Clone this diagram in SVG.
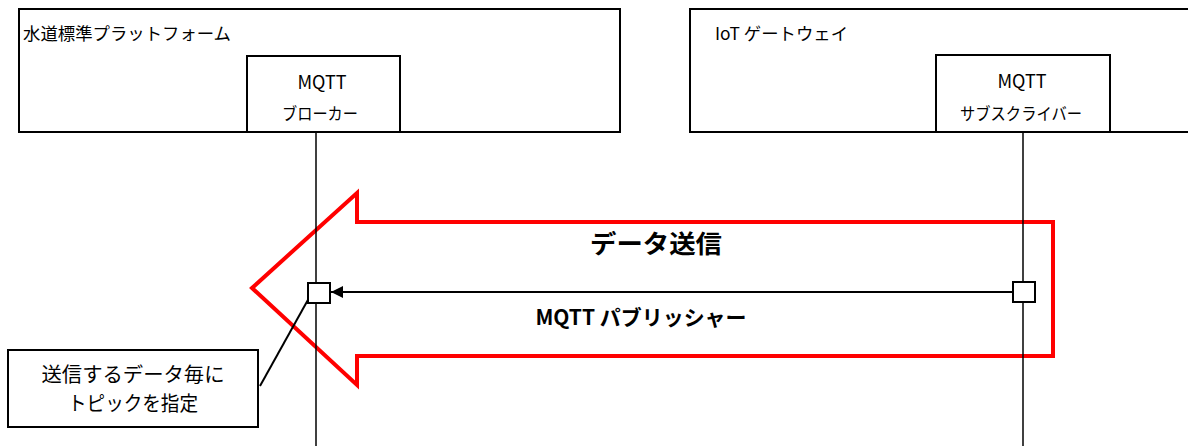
<svg xmlns="http://www.w3.org/2000/svg" width="1188" height="446" viewBox="0 0 1188 446">
<defs>
<style>
.box{fill:#fff;stroke:#000;stroke-width:2}
.t{font-family:"Noto Sans CJK JP","Liberation Sans",sans-serif;fill:#000}
.life{stroke:#000;stroke-width:1.5;fill:none}
.act{fill:#fff;stroke:#000;stroke-width:2}
.big{fill:none;stroke:#f00;stroke-width:4}
</style>
<marker id="ah" viewBox="0 0 10 10" refX="10" refY="5" markerWidth="15" markerHeight="12" markerUnits="userSpaceOnUse" orient="auto">
<path d="M0,0 L10,5 L0,10 z" fill="#000"/>
</marker>
</defs>
<rect width="1188" height="446" fill="#fff"/>
<g id="platform">
<rect class="box" x="19" y="9" width="601" height="123"/>
<text class="t" x="23" y="40" font-size="17" textLength="208" lengthAdjust="spacingAndGlyphs">水道標準プラットフォーム</text>
</g>
<g id="gateway">
<rect class="box" x="690" y="9" width="510" height="123"/>
<text class="t" x="715" y="40" font-size="17" textLength="133" lengthAdjust="spacingAndGlyphs">IoT ゲートウェイ</text>
</g>
<g id="send-arrow">
<polygon class="big" points="252,288 357,193 357,222 1053,222 1053,356 357,356 357,385"/>
<text class="t" x="656" y="253" font-size="25" font-weight="bold" text-anchor="middle" textLength="132" lengthAdjust="spacingAndGlyphs">データ送信</text>
</g>
<g id="lifelines">
<line class="life" x1="316" y1="132" x2="316" y2="446"/>
<line class="life" x1="1023" y1="132" x2="1023" y2="446"/>
</g>
<g id="broker">
<rect class="box" x="247" y="56" width="153" height="76"/>
<text class="t" x="322" y="89" font-size="18" text-anchor="middle">MQTT</text>
<text class="t" x="320" y="120" font-size="17" text-anchor="middle" textLength="76" lengthAdjust="spacingAndGlyphs">ブローカー</text>
</g>
<g id="subscriber">
<rect class="box" x="936" y="55" width="174" height="77"/>
<text class="t" x="1022" y="88" font-size="18" text-anchor="middle">MQTT</text>
<text class="t" x="1021" y="120" font-size="17" text-anchor="middle" textLength="122" lengthAdjust="spacingAndGlyphs">サブスクライバー</text>
</g>
<g id="connectors">
<line x1="1012" y1="292" x2="331" y2="292" stroke="#000" stroke-width="2" marker-end="url(#ah)"/>
<line x1="260" y1="386" x2="314" y2="289" stroke="#000" stroke-width="2"/>
</g>
<g id="activation-broker">
<rect class="act" x="308" y="283" width="22" height="20"/>
</g>
<g id="activation-subscriber">
<rect class="act" x="1013" y="282" width="22" height="20"/>
</g>
<g id="publisher-label">
<text class="t" x="641" y="325" font-size="21" font-weight="bold" text-anchor="middle" textLength="211" lengthAdjust="spacingAndGlyphs">MQTT パブリッシャー</text>
</g>
<g id="callout">
<rect class="box" x="8" y="350" width="250" height="77"/>
<text class="t" x="133" y="382" font-size="20" text-anchor="middle" textLength="183" lengthAdjust="spacingAndGlyphs">送信するデータ毎に</text>
<text class="t" x="133" y="411" font-size="20" text-anchor="middle" textLength="130" lengthAdjust="spacingAndGlyphs">トピックを指定</text>
</g>
</svg>
